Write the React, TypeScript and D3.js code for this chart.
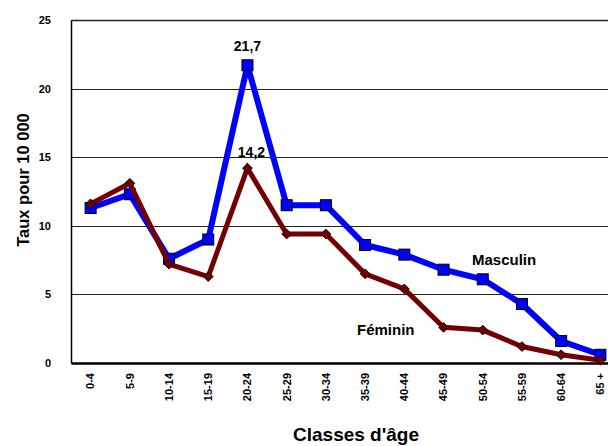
import React, { useRef, useEffect } from 'react';
import * as d3 from 'd3';

const categories = ['0-4', '5-9', '10-14', '15-19', '20-24', '25-29', '30-34', '35-39', '40-44', '45-49', '50-54', '55-59', '60-64', '65 +'];
const masculin = [11.3, 12.3, 7.6, 9.0, 21.7, 11.5, 11.5, 8.6, 7.9, 6.8, 6.1, 4.3, 1.6, 0.6];
const feminin = [11.6, 13.1, 7.2, 6.3, 14.2, 9.4, 9.4, 6.5, 5.4, 2.6, 2.4, 1.2, 0.6, 0.2];
const yTicks = [0, 5, 10, 15, 20, 25];

const App = () => {
    const svgRef = useRef<SVGSVGElement>(null);

    useEffect(() => {
        const width = 608;
        const height = 446;
        const margin = { top: 20, left: 71, bottom: 363 };
        const plotRight = 620; // plot runs past the window edge, as in the original
        const font = '"Liberation Sans", Arial, sans-serif';

        const svg = d3.select(svgRef.current)
            .attr('width', width)
            .attr('height', height)
            .style('position', 'absolute')
            .style('left', '0px')
            .style('top', '0px')
            .style('background', '#fff')
            .style('font-family', font);

        svg.selectAll('*').remove();

        // scales
        const x = d3.scaleBand()
            .domain(categories)
            .range([margin.left, plotRight]);
        const cx = (c: string) => (x(c) as number) + x.bandwidth() / 2;

        const y = d3.scaleLinear()
            .domain([0, 25])
            .range([margin.bottom, margin.top]);

        // gridlines (incl. top border of the plot)
        svg.append('g')
            .selectAll('line')
            .data(yTicks.filter(t => t > 0))
            .join('line')
            .attr('x1', margin.left)
            .attr('x2', plotRight)
            .attr('y1', d => Math.round(y(d)) + 0.5)
            .attr('y2', d => Math.round(y(d)) + 0.5)
            .attr('stroke', '#222')
            .attr('stroke-width', d => (d === 25 ? 1.5 : 1));

        // y axis
        const yAxis = d3.axisLeft(y).tickValues(yTicks).tickSize(0).tickPadding(20);
        const yg = svg.append('g')
            .attr('transform', `translate(${margin.left}, 0)`)
            .call(yAxis);
        yg.select('.domain').attr('stroke', '#000').attr('stroke-width', 1.5);
        yg.selectAll('text')
            .attr('font-size', 11)
            .attr('font-weight', 'bold')
            .attr('font-family', font)
            .attr('fill', '#000');

        // x axis
        const xAxis = d3.axisBottom(x).tickSize(0).tickPadding(0);
        const xg = svg.append('g')
            .attr('transform', `translate(0, ${margin.bottom})`)
            .call(xAxis);
        xg.select('.domain').attr('stroke', '#000').attr('stroke-width', 2.5);
        xg.selectAll('text')
            .attr('font-size', 11)
            .attr('font-weight', 'bold')
            .attr('font-family', font)
            .attr('fill', '#000')
            .attr('text-anchor', 'end')
            .attr('dy', '0.35em')
            .attr('transform', 'translate(0, 10) rotate(-90)')
            .attr('x', 0)
            .attr('y', 0);

        // line series
        const line = d3.line<number>()
            .x((d, i) => cx(categories[i]))
            .y(d => y(d));

        svg.append('path')
            .datum(masculin)
            .attr('fill', 'none')
            .attr('stroke', '#0000ff')
            .attr('stroke-width', 6)
            .attr('d', line);

        svg.append('g')
            .selectAll('rect')
            .data(masculin)
            .join('rect')
            .attr('x', (d, i) => cx(categories[i]) - 5.5)
            .attr('y', d => y(d) - 5.5)
            .attr('width', 11)
            .attr('height', 11)
            .attr('fill', '#0000ff')
            .attr('stroke', '#000')
            .attr('stroke-width', 1);

        svg.append('path')
            .datum(feminin)
            .attr('fill', 'none')
            .attr('stroke', '#730000')
            .attr('stroke-width', 5)
            .attr('d', line);

        const diamond = d3.symbol().type(d3.symbolDiamond2).size(60);
        svg.append('g')
            .selectAll('path')
            .data(feminin)
            .join('path')
            .attr('transform', (d, i) => `translate(${cx(categories[i])}, ${y(d)})`)
            .attr('d', diamond)
            .attr('fill', '#730000')
            .attr('stroke', '#000')
            .attr('stroke-width', 1);

        // data labels for the peaks
        const peak = categories.indexOf('20-24');
        svg.append('text')
            .attr('x', cx(categories[peak]))
            .attr('y', y(masculin[peak]) - 14)
            .attr('text-anchor', 'middle')
            .attr('font-size', 14)
            .attr('font-weight', 'bold')
            .text(String(masculin[peak]).replace('.', ','));
        svg.append('text')
            .attr('x', cx(categories[peak]) + 4)
            .attr('y', y(feminin[peak]) - 11)
            .attr('text-anchor', 'middle')
            .attr('font-size', 14)
            .attr('font-weight', 'bold')
            .text(String(feminin[peak]).replace('.', ','));

        // series names
        svg.append('text')
            .attr('x', 472)
            .attr('y', 265)
            .attr('font-size', 15)
            .attr('font-weight', 'bold')
            .text('Masculin');
        svg.append('text')
            .attr('x', 357)
            .attr('y', 335)
            .attr('font-size', 15)
            .attr('font-weight', 'bold')
            .text('Féminin');

        // axis titles
        svg.append('text')
            .attr('transform', 'translate(29, 180) rotate(-90)')
            .attr('text-anchor', 'middle')
            .attr('font-size', 16.5)
            .attr('font-weight', 'bold')
            .text('Taux pour 10 000');
        svg.append('text')
            .attr('x', 356)
            .attr('y', 441)
            .attr('text-anchor', 'middle')
            .attr('font-size', 19)
            .attr('font-weight', 'bold')
            .text("Classes d'âge");
    }, []);

    return <svg ref={svgRef}></svg>;
};

export default App;
